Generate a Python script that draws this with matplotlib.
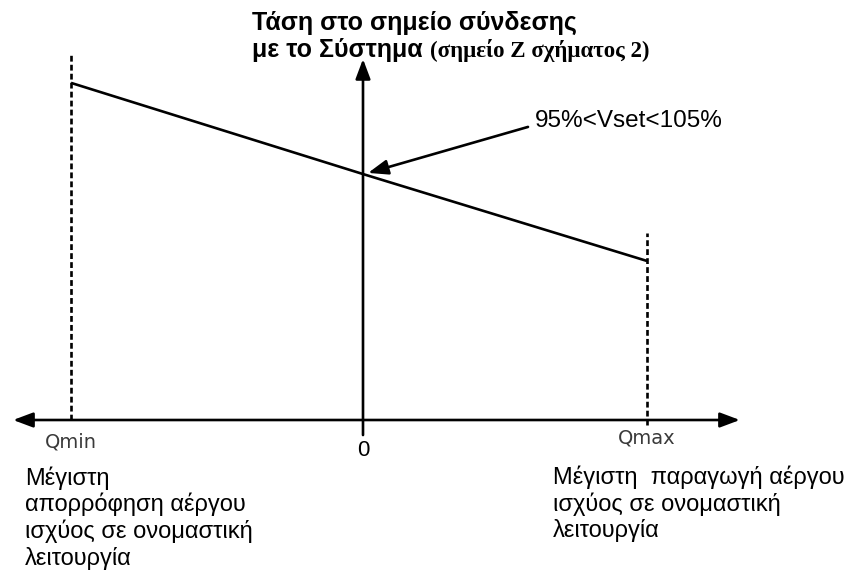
import matplotlib.pyplot as plt
from matplotlib import transforms

# figure size in pixels
W, H = 855, 575

# reactive power positions (Qmin, 0, Qmax), in units of Qmax
q_marks = [-1.028, 0.0, 1.0]
q_labels = ['Qmin', '0', 'Qmax']
# voltage at the connection point along the Q-V characteristic
v_line = [1.187, 0.866, 0.560]
# tops of the dashed limit lines at Qmin / Qmax
v_limit_top = [1.285, 0.658]

# axes extents
q_axis = [-1.232, 1.327]
v_axis = [-0.053, 1.271]

# pointer to the setpoint (from text to the line at Q=0)
pointer_from = (0.581, 1.032)
pointer_to = (0.018, 0.870)

title1 = 'Τάση στο σημείο σύνδεσης'
title2a = 'με το Σύστημα '
title2b = '(σημείο Ζ σχήματος 2)'
setpoint_text = '95%<Vset<105%'
left_note = ['Μέγιστη', 'απορρόφηση αέργου', 'ισχύος σε ονομαστική', 'λειτουργία']
right_note = ['Μέγιστη  παραγωγή αέργου', 'ισχύος σε ονομαστική', 'λειτουργία']

fig = plt.figure(figsize=(W / 100, H / 100), dpi=100)
ax = fig.add_axes([0, 0, 1, 1])
# 0 on the Q axis sits at x=363 px, the Q axis at y=420 px, 284 px per unit
ax.set_xlim(-363 / 284, (W - 363) / 284)
ax.set_ylim(-(H - 420) / 284, 420 / 284)
ax.axis('off')

LW = 1.9
head = 'head_length=1.2,head_width=0.45'

# horizontal Q axis, arrows both ends
ax.annotate('', xy=(q_axis[1], 0), xytext=(q_axis[0], 0),
            arrowprops=dict(arrowstyle='<|-|>,' + head, lw=LW, color='black',
                            shrinkA=0, shrinkB=0, mutation_scale=10))
# vertical V axis
ax.annotate('', xy=(0, v_axis[1]), xytext=(0, v_axis[0]),
            arrowprops=dict(arrowstyle='-|>,' + head, lw=LW, color='black',
                            shrinkA=0, shrinkB=0, mutation_scale=10))

# dashed limits at Qmin and Qmax
ax.plot([q_marks[0], q_marks[0]], [0, v_limit_top[0]], color='black', lw=LW,
        dashes=(2.2, 1.2))
ax.plot([q_marks[2], q_marks[2]], [-0.018, v_limit_top[1]], color='black', lw=LW,
        dashes=(2.2, 1.2))

# Q-V characteristic
ax.plot(q_marks, v_line, color='black', lw=LW, solid_capstyle='butt')

# pointer arrow
ax.annotate('', xy=pointer_to, xytext=pointer_from,
            arrowprops=dict(arrowstyle='-|>,' + head, lw=LW, color='black',
                            shrinkA=0, shrinkB=0, mutation_scale=10))

# texts, placed in pixel positions
def fxy(x, y):
    return x / W, 1 - y / H

sans = 'Liberation Sans'
serif = 'Liberation Serif'

fig.text(*fxy(252, 30), title1, fontsize=18, fontweight='bold', family=sans,
         va='baseline')
t2 = fig.text(*fxy(252, 57), title2a, fontsize=18, fontweight='bold', family=sans,
              va='baseline')
r = fig.canvas.get_renderer()
bb = t2.get_window_extent(r)
fig.text(bb.x1 / W, 1 - 57 / H, title2b, fontsize=16.5, fontweight='bold',
         family=serif, va='baseline')

fig.text(*fxy(535, 127), setpoint_text, fontsize=17.5, family=sans, va='baseline')

# axis labels under the Q positions
lab_tr = transforms.blended_transform_factory(ax.transData, fig.transFigure)
label_y = [442, 450, 438]
for q, lab, y in zip(q_marks, q_labels, label_y):
    if lab == '0':
        ax.text(q, 1 - y / H, lab, transform=lab_tr, fontsize=16, family=sans,
                ha='center', va='center')
    else:
        ax.text(q, 1 - y / H, lab, transform=lab_tr, fontsize=14,
                family='DejaVu Sans', color='#3a3a3a', ha='center', va='center')

for i, line in enumerate(left_note):
    fig.text(*fxy(25, 485 + 26.5 * i), line, fontsize=17, family=sans, va='baseline')
for i, line in enumerate(right_note):
    fig.text(*fxy(553, 484 + 26.5 * i), line, fontsize=17, family=sans, va='baseline')

fig.savefig('out.png', dpi=100, facecolor='white')
